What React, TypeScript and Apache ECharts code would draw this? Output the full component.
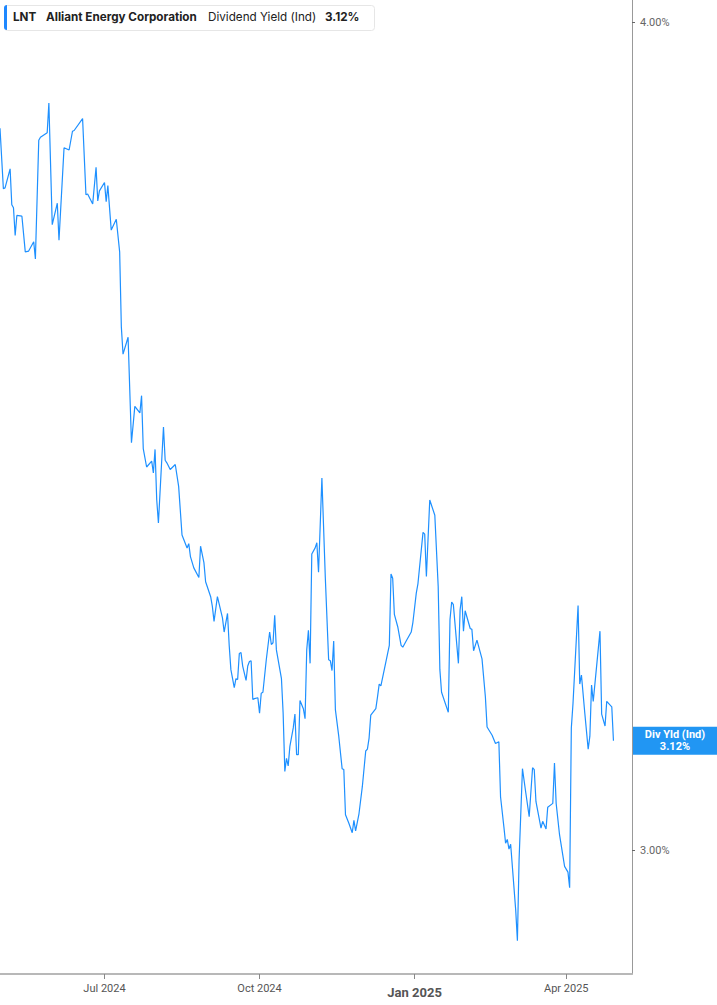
import React, { useEffect, useRef } from "react";
import * as echarts from "echarts";

// LNT dividend yield (indicated), %
const dates = [
  "2024-04-30", "2024-05-02", "2024-05-03", "2024-05-06", "2024-05-07", "2024-05-08", "2024-05-09", "2024-05-10", "2024-05-13", "2024-05-15",
  "2024-05-17", "2024-05-20", "2024-05-21", "2024-05-23", "2024-05-24", "2024-05-28", "2024-05-29", "2024-05-31", "2024-06-03", "2024-06-04",
  "2024-06-07", "2024-06-10", "2024-06-12", "2024-06-13", "2024-06-18", "2024-06-20", "2024-06-21", "2024-06-24", "2024-06-26", "2024-06-27",
  "2024-06-28", "2024-07-01", "2024-07-02", "2024-07-03", "2024-07-05", "2024-07-08", "2024-07-10", "2024-07-11", "2024-07-12", "2024-07-15",
  "2024-07-16", "2024-07-17", "2024-07-19", "2024-07-22", "2024-07-23", "2024-07-24", "2024-07-26", "2024-07-29", "2024-07-30", "2024-07-31",
  "2024-08-01", "2024-08-02", "2024-08-05", "2024-08-06", "2024-08-07", "2024-08-09", "2024-08-12", "2024-08-14", "2024-08-16", "2024-08-19",
  "2024-08-20", "2024-08-21", "2024-08-23", "2024-08-26", "2024-08-27", "2024-08-29", "2024-08-30", "2024-09-02", "2024-09-03", "2024-09-04",
  "2024-09-06", "2024-09-09", "2024-09-10", "2024-09-12", "2024-09-13", "2024-09-14", "2024-09-16", "2024-09-17", "2024-09-18", "2024-09-19",
  "2024-09-20", "2024-09-21", "2024-09-23", "2024-09-24", "2024-09-25", "2024-09-26", "2024-09-27", "2024-09-28", "2024-09-30", "2024-10-01",
  "2024-10-02", "2024-10-03", "2024-10-05", "2024-10-07", "2024-10-08", "2024-10-09", "2024-10-10", "2024-10-11", "2024-10-14", "2024-10-15",
  "2024-10-16", "2024-10-17", "2024-10-18", "2024-10-19", "2024-10-21", "2024-10-22", "2024-10-23", "2024-10-24", "2024-10-25", "2024-10-27",
  "2024-10-28", "2024-10-29", "2024-10-30", "2024-10-31", "2024-11-01", "2024-11-03", "2024-11-04", "2024-11-05", "2024-11-07", "2024-11-09",
  "2024-11-11", "2024-11-12", "2024-11-13", "2024-11-14", "2024-11-15", "2024-11-17", "2024-11-19", "2024-11-20", "2024-11-21", "2024-11-23",
  "2024-11-25", "2024-11-26", "2024-11-27", "2024-11-29", "2024-12-01", "2024-12-03", "2024-12-04", "2024-12-05", "2024-12-06", "2024-12-09",
  "2024-12-10", "2024-12-11", "2024-12-12", "2024-12-15", "2024-12-17", "2024-12-18", "2024-12-19", "2024-12-20", "2024-12-22", "2024-12-24",
  "2024-12-25", "2024-12-27", "2024-12-30", "2024-12-31", "2025-01-02", "2025-01-03", "2025-01-06", "2025-01-07", "2025-01-08", "2025-01-10",
  "2025-01-13", "2025-01-15", "2025-01-16", "2025-01-17", "2025-01-21", "2025-01-22", "2025-01-23", "2025-01-24", "2025-01-27", "2025-01-28",
  "2025-01-29", "2025-01-30", "2025-01-31", "2025-02-03", "2025-02-04", "2025-02-05", "2025-02-07", "2025-02-10", "2025-02-12", "2025-02-13",
  "2025-02-16", "2025-02-18", "2025-02-20", "2025-02-21", "2025-02-23", "2025-02-24", "2025-02-25", "2025-02-26", "2025-02-27", "2025-03-02",
  "2025-03-03", "2025-03-04", "2025-03-06", "2025-03-08", "2025-03-10", "2025-03-12", "2025-03-13", "2025-03-14", "2025-03-17", "2025-03-18",
  "2025-03-20", "2025-03-21", "2025-03-24", "2025-03-25", "2025-03-26", "2025-03-28", "2025-03-31", "2025-04-02", "2025-04-03", "2025-04-04",
  "2025-04-05", "2025-04-08", "2025-04-09", "2025-04-10", "2025-04-12", "2025-04-14", "2025-04-15", "2025-04-16", "2025-04-17", "2025-04-21",
  "2025-04-22", "2025-04-24", "2025-04-25", "2025-04-28", "2025-04-29",
];

const yields = [
  3.855, 3.775, 3.776, 3.801, 3.754, 3.750, 3.714, 3.740, 3.739, 3.693,
  3.694, 3.706, 3.684, 3.839, 3.843, 3.849, 3.889, 3.728, 3.756, 3.708,
  3.829, 3.826, 3.851, 3.852, 3.868, 3.767, 3.768, 3.755, 3.803, 3.759,
  3.772, 3.783, 3.758, 3.779, 3.721, 3.735, 3.693, 3.598, 3.564, 3.585,
  3.520, 3.456, 3.500, 3.492, 3.513, 3.449, 3.427, 3.434, 3.420, 3.448,
  3.388, 3.361, 3.475, 3.435, 3.432, 3.424, 3.430, 3.404, 3.347, 3.332,
  3.337, 3.322, 3.309, 3.298, 3.334, 3.315, 3.293, 3.276, 3.265, 3.248,
  3.276, 3.252, 3.236, 3.257, 3.221, 3.194, 3.174, 3.184, 3.183, 3.212,
  3.213, 3.198, 3.182, 3.198, 3.203, 3.204, 3.161, 3.162, 3.163, 3.146,
  3.168, 3.169, 3.205, 3.236, 3.222, 3.224, 3.255, 3.216, 3.184, 3.146,
  3.083, 3.097, 3.089, 3.110, 3.130, 3.145, 3.101, 3.101, 3.160, 3.151,
  3.140, 3.216, 3.238, 3.201, 3.325, 3.332, 3.338, 3.304, 3.414, 3.299,
  3.205, 3.204, 3.193, 3.226, 3.150, 3.121, 3.086, 3.085, 3.037, 3.028,
  3.018, 3.031, 3.020, 3.038, 3.067, 3.105, 3.107, 3.119, 3.144, 3.151,
  3.164, 3.178, 3.176, 3.203, 3.221, 3.302, 3.297, 3.256, 3.242, 3.221,
  3.219, 3.226, 3.236, 3.247, 3.280, 3.291, 3.350, 3.348, 3.299, 3.388,
  3.370, 3.288, 3.194, 3.169, 3.147, 3.250, 3.270, 3.267, 3.201, 3.261,
  3.276, 3.237, 3.260, 3.240, 3.239, 3.215, 3.227, 3.206, 3.164, 3.131,
  3.122, 3.113, 3.115, 3.056, 3.024, 3.007, 3.011, 3.001, 3.006, 2.938,
  2.907, 2.990, 3.086, 3.060, 3.035, 3.087, 3.085, 3.051, 3.023, 3.030,
  3.022, 3.045, 3.049, 3.092, 3.049, 3.016, 2.983, 2.977, 2.961, 3.130,
  3.157, 3.266, 3.178, 3.188, 3.146, 3.107, 3.121, 3.177, 3.159, 3.237,
  3.145, 3.132, 3.159, 3.153, 3.116,
];

const quarterTicks = ["2024-07-01", "2024-10-01", "2025-01-01", "2025-04-01"];
const yTicks = [3, 4];
const months = ["Jan", "Feb", "Mar", "Apr", "May", "Jun", "Jul", "Aug", "Sep", "Oct", "Nov", "Dec"];
const xStart = "2024-04-30";
const xEnd = "2025-05-10";

const ticker = "LNT";
const company = "Alliant Energy Corporation";
const metric = "Dividend Yield (Ind)";
const endTitle = "Div Yld (Ind)";

const legendFont = "11.7px Inter, sans-serif";
const legendBold = "bold " + legendFont;

const App = () => {
  const el = useRef<HTMLDivElement>(null);

  useEffect(() => {
    if (!el.current) return;
    const chart = echarts.init(el.current, null, { renderer: "svg" });
    const last = yields[yields.length - 1];
    const lastText = last.toFixed(2) + "%";
    const tickTs = quarterTicks.map((d) => Date.parse(d));
    const endTs = Date.parse(xEnd);

    chart.setOption({
      animation: false,
      backgroundColor: "#ffffff",
      textStyle: { fontFamily: "Roboto, sans-serif" },
      grid: { left: 0, right: 85, top: 0, bottom: 31 },
      xAxis: {
        type: "value",
        min: Date.parse(xStart),
        max: endTs,
        splitLine: { show: false },
        axisLine: { onZero: false, lineStyle: { color: "#b8b8b8", width: 2 } },
        axisTick: { customValues: tickTs, length: 5, lineStyle: { color: "#888", width: 1 } },
        axisLabel: {
          customValues: tickTs,
          margin: 9,
          color: "#555",
          fontSize: 11,
          formatter: (v: number) => {
            const d = new Date(v);
            const m = d.getUTCMonth();
            const s = months[m] + " " + d.getUTCFullYear();
            return m === 0 ? "{b|" + s + "}" : s;
          },
          rich: {
            b: { fontSize: 13, fontWeight: "bold", color: "#555", padding: [3, 0, 0, 0] },
          },
        },
      },
      yAxis: {
        type: "log",
        position: "right",
        min: 2.8735,
        max: 4.0307,
        splitLine: { show: false },
        axisLine: { show: true, lineStyle: { color: "#999", width: 1 } },
        axisTick: { show: true, customValues: yTicks, length: 3, lineStyle: { color: "#666" } },
        axisLabel: {
          customValues: yTicks,
          margin: 8,
          color: "#666",
          fontSize: 11,
          formatter: (v: number) => v.toFixed(2) + "%",
        },
      },
      series: [
        {
          type: "line",
          data: dates.map((d, i) => [Date.parse(d), yields[i]]),
          showSymbol: false,
          lineStyle: { color: "#1e90ff", width: 1.2 },
          itemStyle: { color: "#1e90ff" },
          markLine: {
            silent: true,
            symbol: ["none", "none"],
            lineStyle: { color: "rgba(255,255,255,0)", width: 1, type: "solid" },
            emphasis: { disabled: true },
            data: [
              [
                { coord: [endTs - 86400000, last] },
                { coord: [endTs, last] },
              ],
            ],
            label: {
              show: true,
              position: "end",
              distance: 1,
              formatter: "{t|" + endTitle + "}\n{t|" + lastText + "}",
              backgroundColor: "#2196f3",
              padding: [2, 10, 2, 10],
              rich: {
                t: {
                  width: 64,
                  align: "center",
                  color: "#ffffff",
                  fontWeight: "bold",
                  fontSize: 11,
                  lineHeight: 12,
                },
              },
            },
          },
        },
      ],
      graphic: [
        {
          type: "rect",
          left: 4,
          top: 5,
          shape: { width: 370, height: 25, r: 3 },
          style: { fill: "#ffffff", stroke: "#e6e6e6", lineWidth: 1 },
        },
        {
          type: "rect",
          left: 4,
          top: 5,
          shape: { width: 3, height: 25, r: [3, 0, 0, 3] },
          style: { fill: "#1e88ff" },
        },
        {
          type: "text",
          left: 13,
          top: 11,
          style: { text: ticker, fill: "#222", font: legendBold },
        },
        {
          type: "text",
          left: 46,
          top: 11,
          style: { text: company, fill: "#222", font: legendBold },
        },
        {
          type: "text",
          left: 208,
          top: 11,
          style: { text: metric, fill: "#222", font: legendFont },
        },
        {
          type: "text",
          left: 325,
          top: 11,
          style: { text: lastText, fill: "#222", font: legendBold },
        },
      ],
    });

    return () => chart.dispose();
  }, []);

  return (
    <div style={{ position: "absolute", left: 0, top: 0, width: 717, height: 1005 }}>
      <div ref={el} style={{ width: "100%", height: "100%" }} />
    </div>
  );
};

export default App;
